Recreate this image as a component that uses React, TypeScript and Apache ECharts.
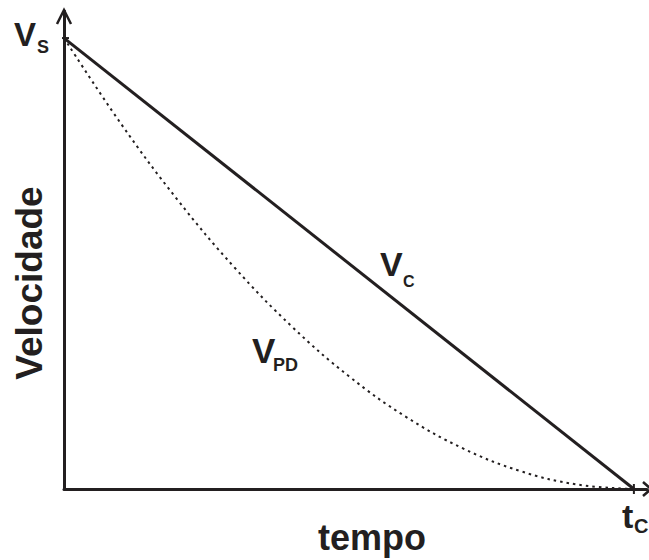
import React, { useEffect, useRef } from "react";
import * as echarts from "echarts";

// Normalised time (0 = start, 1 = t_C)
const timeFrac = [0, 0.1, 0.2, 0.3, 0.4, 0.5, 0.6, 0.7, 0.8, 0.9, 1];
// Constant-deceleration velocity V_C (straight line V_S -> 0)
const vConstTime = [0, 1];
const vConst = [1, 0];
// V_PD velocity profile (normalised to V_S)
const vPD = [1, 0.81, 0.64, 0.49, 0.36, 0.25, 0.16, 0.09, 0.04, 0.01, 0];

const INK = "#231f20";
const FONT = "'Liberation Sans', Arial, sans-serif";

const txt = (
  text: string,
  x: number,
  y: number,
  fontSize: number,
  align: string = "left",
  rotation = 0
) => ({
  type: "text",
  x,
  y,
  rotation,
  silent: true,
  style: {
    text,
    fill: INK,
    fontSize,
    fontWeight: "bold",
    fontFamily: FONT,
    align,
    verticalAlign: "middle",
    textAlign: align,
    textVerticalAlign: "middle",
  },
});

export default function App() {
  const ref = useRef<HTMLDivElement>(null);

  useEffect(() => {
    if (!ref.current) return;
    const chart = echarts.init(ref.current, undefined, { renderer: "svg" });

    chart.setOption({
      animation: false,
      backgroundColor: "#ffffff",
      grid: { left: 64, right: 2, top: 11, bottom: 71 },
      xAxis: {
        type: "value",
        min: 0,
        max: 1.023,
        axisLine: { show: true, onZero: false, lineStyle: { color: INK, width: 3 } },
        axisTick: { show: false },
        axisLabel: { show: false },
        splitLine: { show: false },
      },
      yAxis: {
        type: "value",
        min: 0,
        max: 1.06,
        axisLine: { show: true, onZero: false, lineStyle: { color: INK, width: 3 } },
        axisTick: { show: false },
        axisLabel: { show: false },
        splitLine: { show: false },
      },
      series: [
        {
          type: "line",
          data: vConstTime.map((t, i) => [t, vConst[i]]),
          symbol: "none",
          lineStyle: { color: INK, width: 3 },
          z: 3,
        },
        {
          type: "line",
          data: timeFrac.map((t, i) => [t, vPD[i]]),
          symbol: "none",
          smooth: 0.4,
          lineStyle: { color: INK, width: 2, type: [2.5, 4] },
          z: 2,
        },
      ],
    });

    // Arrowheads and end ticks placed from axis coordinates
    const origin = chart.convertToPixel({ gridIndex: 0 }, [0, 0]) as number[];
    const yTop = chart.convertToPixel({ gridIndex: 0 }, [0, 1.06]) as number[];
    const xEnd = chart.convertToPixel({ gridIndex: 0 }, [1.023, 0]) as number[];
    const vs = chart.convertToPixel({ gridIndex: 0 }, [0, 1]) as number[];
    const tc = chart.convertToPixel({ gridIndex: 0 }, [1, 0]) as number[];

    const lineStyle = { stroke: INK, lineWidth: 2.5, fill: null };

    chart.setOption({
      graphic: [
        {
          type: "polyline",
          silent: true,
          shape: {
            points: [
              [yTop[0] - 7, yTop[1] + 13],
              [yTop[0], yTop[1] - 1],
              [yTop[0] + 7, yTop[1] + 13],
            ],
          },
          style: lineStyle,
        },
        {
          type: "polyline",
          silent: true,
          shape: {
            points: [
              [xEnd[0] - 4, origin[1] - 7],
              [xEnd[0] + 4, origin[1]],
              [xEnd[0] - 4, origin[1] + 7],
            ],
          },
          style: lineStyle,
        },
        {
          type: "line",
          silent: true,
          shape: { x1: tc[0], y1: tc[1] - 5, x2: tc[0], y2: tc[1] + 5 },
          style: { stroke: INK, lineWidth: 2 },
        },
        {
          type: "line",
          silent: true,
          shape: { x1: vs[0] - 2, y1: vs[1], x2: vs[0] + 5, y2: vs[1] },
          style: { stroke: INK, lineWidth: 2 },
        },
        txt("V", 14, 34, 33),
        txt("S", 37, 47, 18),
        txt("V", 380, 264, 34),
        txt("C", 403, 281, 16),
        txt("V", 252, 350, 35),
        txt("PD", 273, 365, 18),
        txt("t", 622, 516, 34),
        txt("C", 634, 526, 20),
        txt("tempo", 372, 537, 36, "center"),
        txt("Velocidade", 29, 283, 37, "center", Math.PI / 2),
      ],
    });

    return () => chart.dispose();
  }, []);

  return <div ref={ref} style={{ width: 649, height: 560, position: "absolute", left: 0, top: 0 }} />;
}
